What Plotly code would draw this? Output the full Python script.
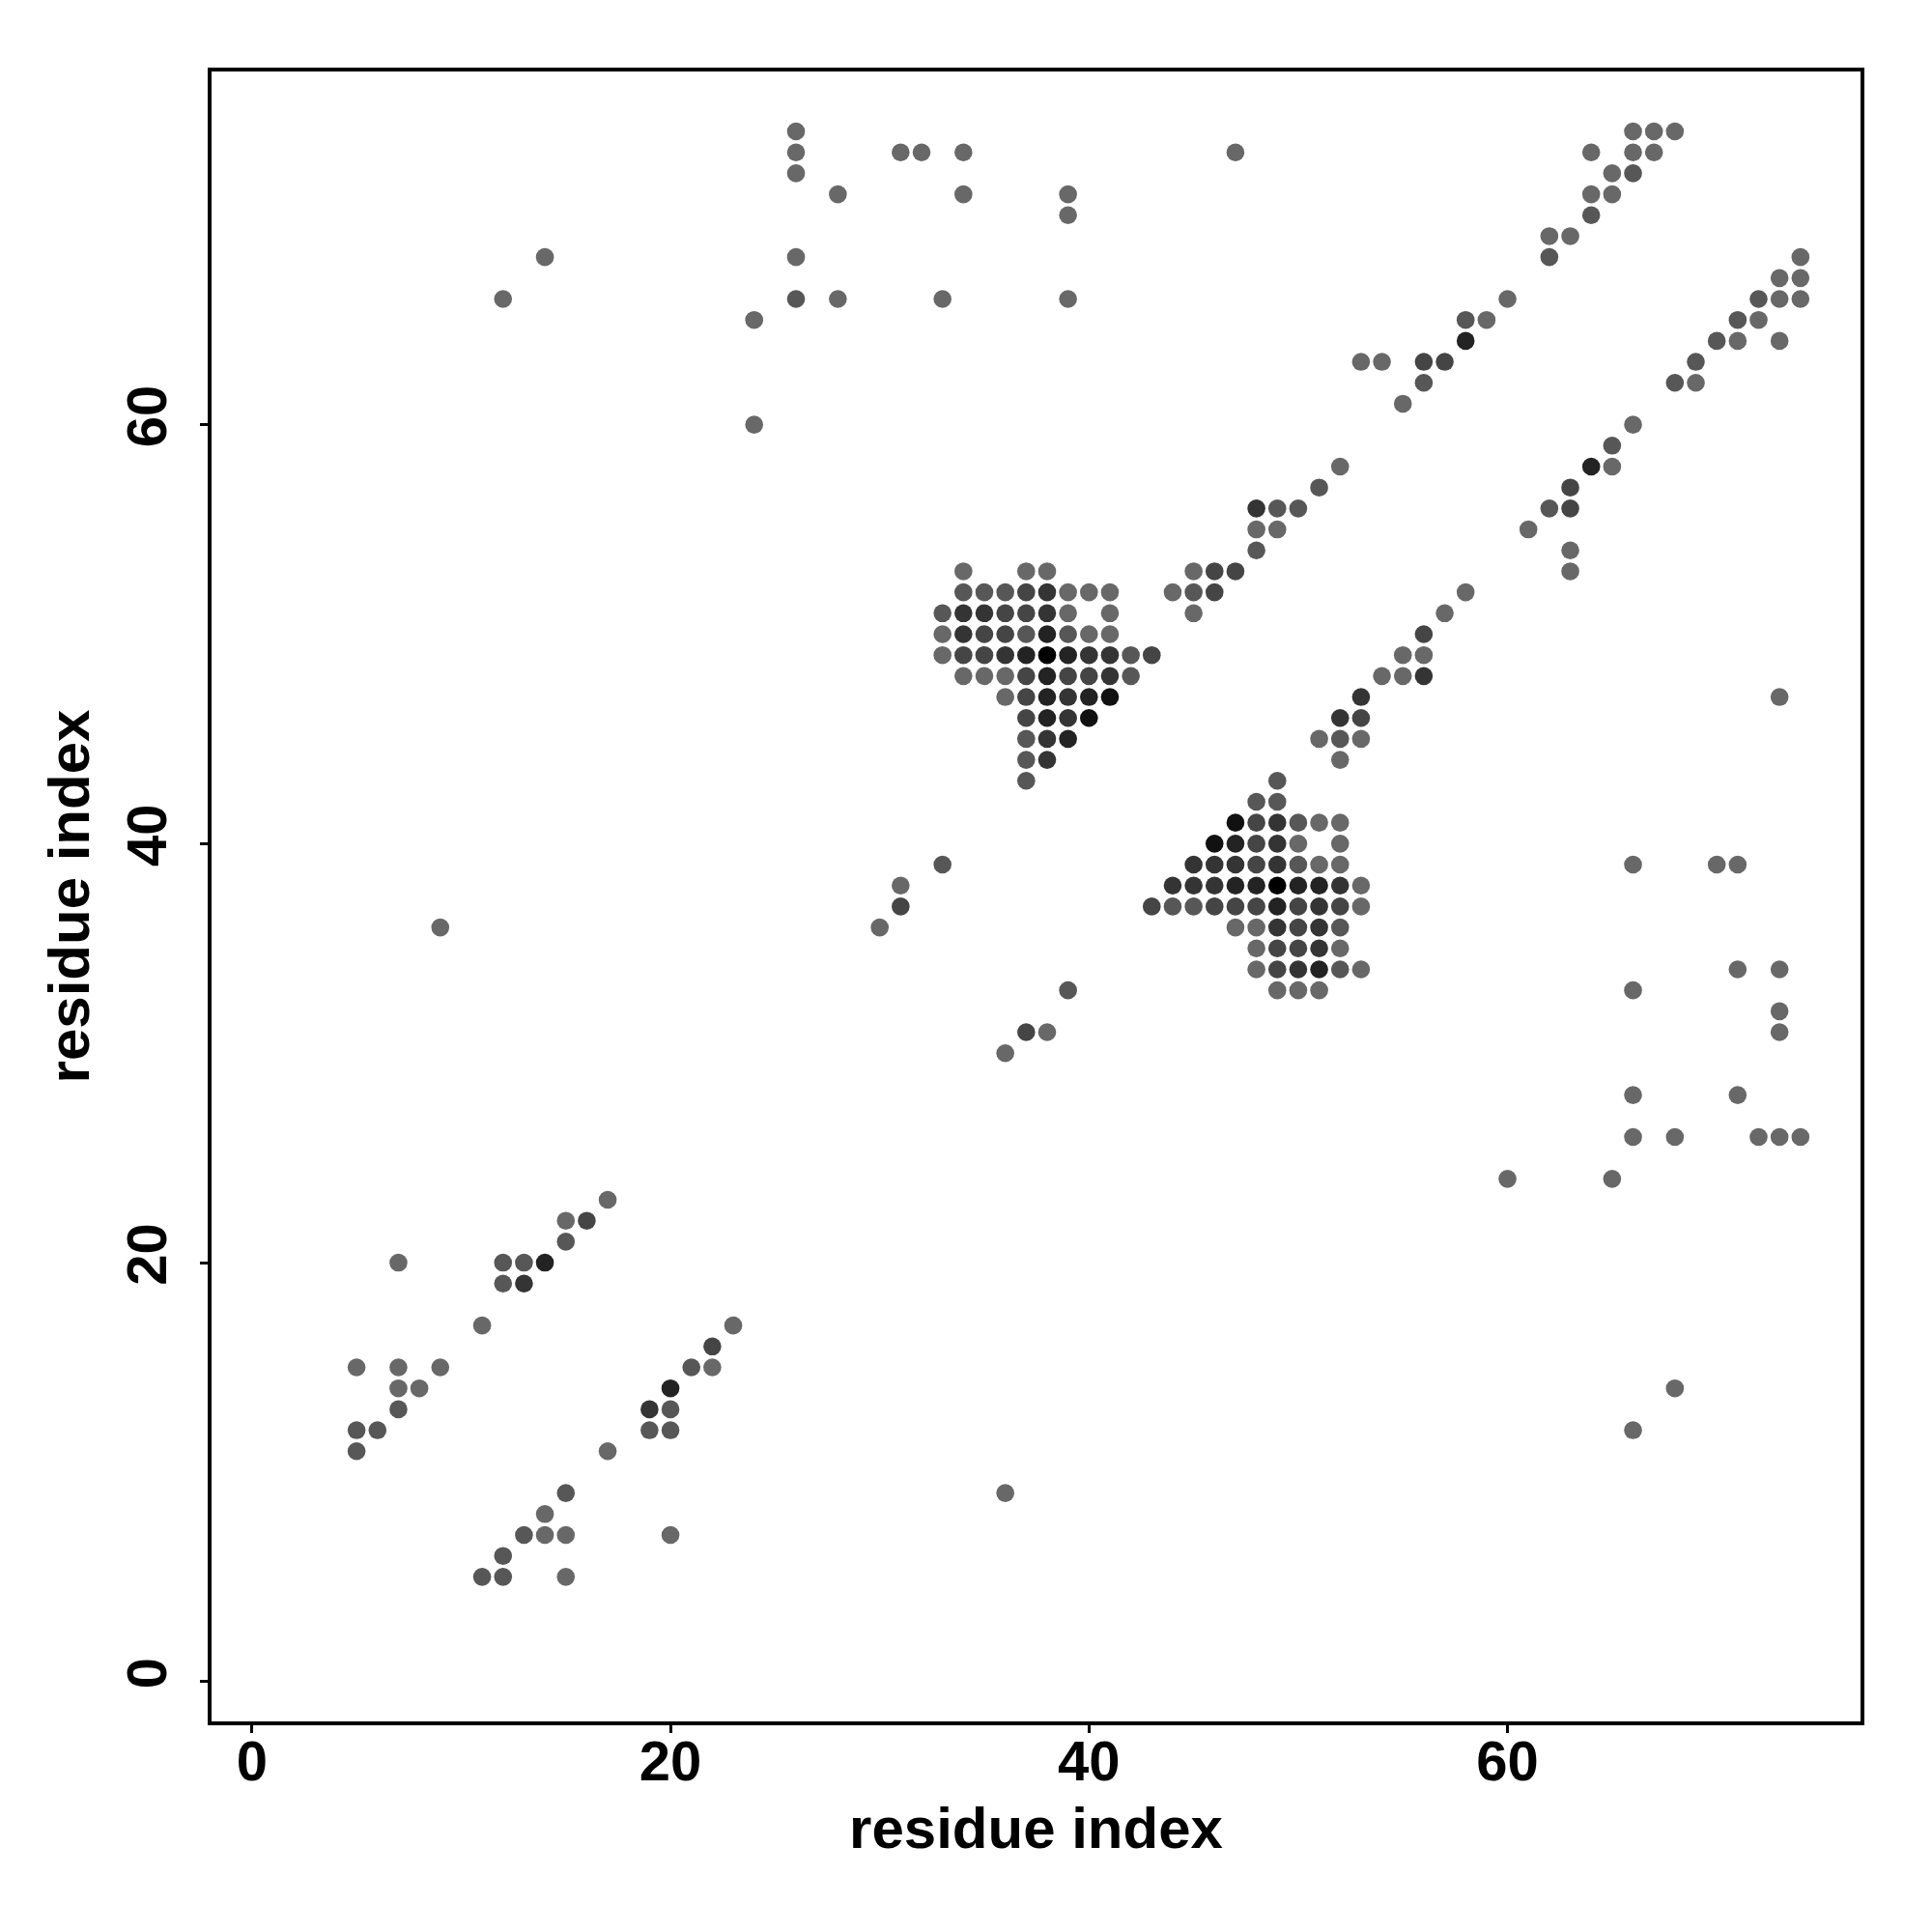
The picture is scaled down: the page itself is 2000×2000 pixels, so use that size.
import plotly.graph_objects as go

# Contact map: (residue i, residue j, contact strength level 1..7)
hairpin_n = [
    (17, 23, 1), (15, 22, 1), (16, 22, 3), (15, 21, 2), (7, 20, 1), (12, 20, 2), (13, 20, 2),
    (14, 20, 5), (12, 19, 2), (13, 19, 4), (11, 17, 1), (5, 15, 1), (7, 15, 1), (9, 15, 1),
    (7, 14, 1), (8, 14, 1), (7, 13, 2), (5, 12, 2), (6, 12, 2), (5, 11, 2),
]
hairpin_n_mirror = [
    (23, 17, 1), (22, 16, 3), (21, 15, 2), (22, 15, 1), (20, 14, 5), (19, 13, 4), (20, 13, 2),
    (19, 12, 2), (20, 12, 2), (17, 11, 1), (15, 9, 2), (14, 8, 1), (13, 7, 2), (14, 7, 1),
    (15, 7, 1), (20, 7, 1), (12, 6, 2), (11, 5, 2), (12, 5, 2), (15, 5, 1),
]
scattered = [
    (36, 9, 1), (9, 36, 1),
    (66, 28, 1), (71, 28, 1), (66, 26, 1), (68, 26, 1), (72, 26, 1), (73, 26, 1), (74, 26, 1),
    (60, 24, 1), (65, 24, 1), (68, 14, 1), (66, 12, 1),
    (33, 39, 2), (31, 38, 1), (31, 37, 3), (30, 36, 1), (39, 33, 2), (37, 31, 3), (38, 31, 1), (36, 30, 1),
    (73, 47, 1), (66, 39, 1), (70, 39, 1), (71, 39, 1), (71, 34, 1), (73, 34, 1), (66, 33, 1),
    (73, 32, 1), (73, 31, 1),
    (26, 74, 1), (26, 73, 1), (26, 72, 1), (28, 71, 1), (14, 68, 1), (26, 68, 1), (12, 66, 1),
    (26, 66, 2), (28, 66, 1), (24, 65, 1), (24, 60, 1), (31, 73, 1), (32, 73, 1), (34, 73, 1),
    (47, 73, 1), (34, 71, 1), (39, 71, 1), (39, 70, 1), (33, 66, 1), (39, 66, 1),
]
sheet_upper = [
    (34, 53, 1), (37, 53, 1), (38, 53, 1),
    (34, 52, 2), (35, 52, 2), (36, 52, 2), (37, 52, 3), (38, 52, 4), (39, 52, 1), (40, 52, 1), (41, 52, 1),
    (33, 51, 2), (34, 51, 4), (35, 51, 4), (36, 51, 3), (37, 51, 3), (38, 51, 4), (39, 51, 1), (41, 51, 1),
    (33, 50, 1), (34, 50, 4), (35, 50, 3), (36, 50, 3), (37, 50, 2), (38, 50, 5), (39, 50, 2), (40, 50, 1), (41, 50, 1),
    (33, 49, 1), (34, 49, 3), (35, 49, 3), (36, 49, 4), (37, 49, 5), (38, 49, 7), (39, 49, 5), (40, 49, 4),
    (41, 49, 4), (42, 49, 2), (43, 49, 3),
    (34, 48, 1), (35, 48, 1), (36, 48, 1), (37, 48, 3), (38, 48, 5), (39, 48, 3), (40, 48, 3), (41, 48, 4), (42, 48, 2),
    (36, 47, 1), (37, 47, 3), (38, 47, 5), (39, 47, 4), (40, 47, 5), (41, 47, 6),
    (37, 46, 3), (38, 46, 5), (39, 46, 4), (40, 46, 6),
    (37, 45, 2), (38, 45, 4), (39, 45, 5),
    (37, 44, 2), (38, 44, 4),
    (37, 43, 2),
]
sheet_lower = [
    (49, 43, 2),
    (48, 42, 2), (49, 42, 2),
    (47, 41, 6), (48, 41, 3), (49, 41, 4), (50, 41, 2), (51, 41, 1), (52, 41, 1),
    (46, 40, 6), (47, 40, 5), (48, 40, 3), (49, 40, 4), (50, 40, 1), (52, 40, 1),
    (45, 39, 4), (46, 39, 4), (47, 39, 4), (48, 39, 3), (49, 39, 4), (50, 39, 2), (51, 39, 1), (52, 39, 1),
    (44, 38, 4), (45, 38, 4), (46, 38, 4), (47, 38, 5), (48, 38, 5), (49, 38, 7), (50, 38, 5), (51, 38, 5),
    (52, 38, 4), (53, 38, 1),
    (43, 37, 3), (44, 37, 2), (45, 37, 2), (46, 37, 3), (47, 37, 3), (48, 37, 3), (49, 37, 5), (50, 37, 3),
    (51, 37, 4), (52, 37, 3), (53, 37, 1),
    (47, 36, 1), (48, 36, 1), (49, 36, 4), (50, 36, 3), (51, 36, 4), (52, 36, 2),
    (48, 35, 1), (49, 35, 3), (50, 35, 3), (51, 35, 4), (52, 35, 1),
    (48, 34, 1), (49, 34, 3), (50, 34, 4), (51, 34, 5), (52, 34, 2), (53, 34, 1),
    (49, 33, 1), (50, 33, 1), (51, 33, 1),
]
diagonal_upper = [
    (44, 52, 1), (45, 52, 2), (46, 52, 3), (45, 53, 1), (46, 53, 3), (47, 53, 3), (45, 51, 1),
    (48, 54, 2), (48, 55, 1), (49, 55, 1), (48, 56, 4), (49, 56, 2), (50, 56, 2), (51, 57, 2), (52, 58, 1),
    (53, 63, 1), (54, 63, 1), (56, 63, 3), (57, 63, 3), (56, 62, 2), (55, 61, 1), (58, 65, 2), (59, 65, 1),
    (58, 64, 5), (60, 66, 1), (62, 69, 1), (63, 69, 1), (62, 68, 2), (64, 70, 2), (64, 71, 1), (65, 71, 1),
    (65, 72, 1), (66, 72, 2), (64, 73, 1), (66, 73, 1), (67, 73, 1), (66, 74, 1), (67, 74, 1), (68, 74, 1),
]
diagonal_lower = [
    (52, 44, 1), (52, 45, 2), (53, 45, 1), (51, 45, 1), (52, 46, 4), (53, 46, 3), (53, 47, 4),
    (54, 48, 1), (55, 48, 1), (56, 48, 4), (55, 49, 1), (56, 49, 1), (56, 50, 3), (57, 51, 1), (58, 52, 1),
    (61, 55, 1), (63, 53, 1), (63, 54, 1), (62, 56, 2), (63, 56, 3), (63, 57, 3), (64, 58, 5), (65, 58, 1),
    (65, 59, 2), (66, 60, 1), (68, 62, 2), (69, 62, 1), (69, 63, 2), (70, 64, 2), (71, 64, 1), (73, 64, 1),
    (71, 65, 2), (72, 65, 1), (72, 66, 2), (73, 66, 1), (74, 66, 1), (73, 67, 1), (74, 67, 1), (74, 68, 1),
]

tick_values = [0, 20, 40, 60]
axis_title = "residue index"

contacts = (hairpin_n + hairpin_n_mirror + scattered + sheet_upper + sheet_lower
            + diagonal_upper + diagonal_lower)
xs = [c[0] for c in contacts]
ys = [c[1] for c in contacts]
levels = [c[2] for c in contacts]

fig = go.Figure(go.Scatter(
    x=xs, y=ys, mode="markers",
    marker=dict(size=18.6, color=levels, cmin=1, cmax=7,
                colorscale=[[0, "rgb(104,104,104)"], [1, "rgb(0,0,0)"]],
                showscale=False, line=dict(width=0)),
    hoverinfo="skip",
))

font_family = "Liberation Sans, Arial, sans-serif"
axis_common = dict(
    tickvals=tick_values, showgrid=False, zeroline=False,
    showline=True, linecolor="black", linewidth=3.5, mirror=True,
    ticks="outside", ticklen=8, tickwidth=3, tickcolor="black",
    tickfont=dict(family=font_family, size=58, color="black", weight="bold"),
)
fig.update_xaxes(range=[-1.93, 76.87], ticklabelstandoff=-20,
                 title=dict(text=axis_title, standoff=18,
                            font=dict(family=font_family, size=60, color="black", weight="bold")),
                 **axis_common)
fig.update_yaxes(range=[-1.90, 76.86], tickangle=-90, ticklabelstandoff=12,
                 title=dict(text=axis_title, standoff=8,
                            font=dict(family=font_family, size=60, color="black", weight="bold")),
                 **axis_common)
fig.update_layout(
    width=2000, height=2000,
    margin=dict(l=211, r=82, t=66, b=226),
    plot_bgcolor="white", paper_bgcolor="white",
    showlegend=False,
)
fig.write_html("out.html")
